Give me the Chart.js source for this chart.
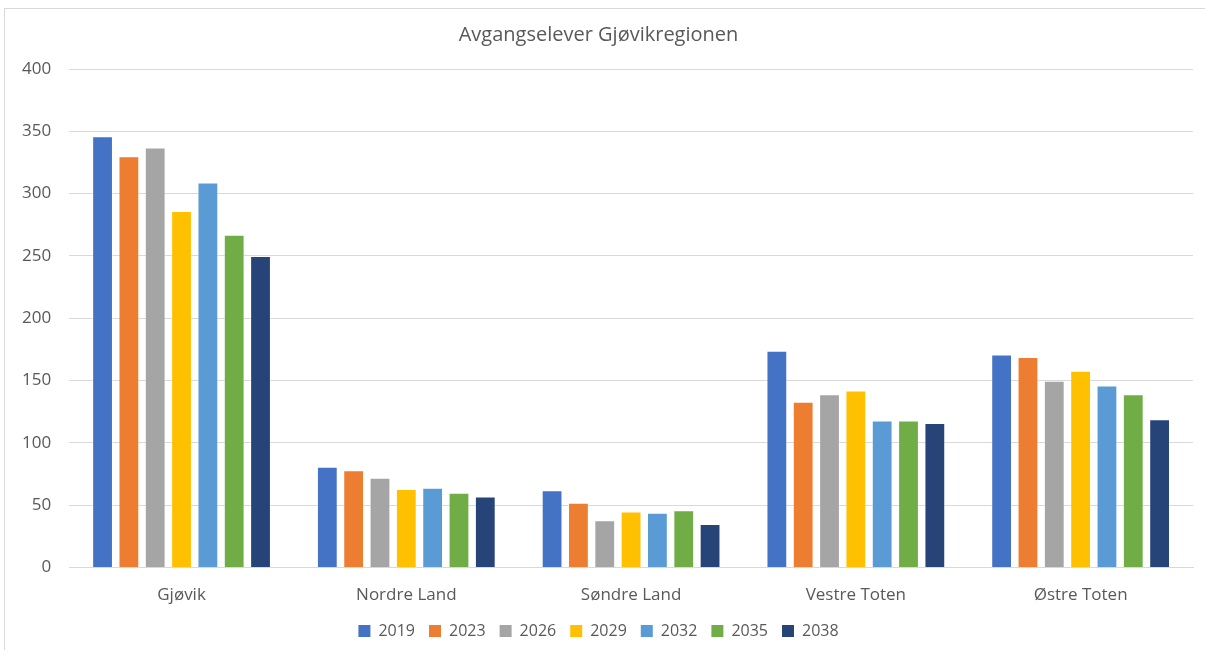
<!DOCTYPE html>
<html>
<head>
<meta charset="utf-8">
<script src="https://cdn.jsdelivr.net/npm/chart.js@4"></script>
<style>
  html, body { margin: 0; padding: 0; background: #fff; }
  #frame { position: absolute; left: 4px; top: 8px; width: 1210px; height: 650px; border: 1px solid #d9d9d9; box-sizing: border-box; }
  #wrap { position: absolute; left: 0; top: 0; width: 1205px; height: 650px; }
</style>
</head>
<body>
<div id="frame"></div>
<div id="wrap"><canvas id="chart"></canvas></div>
<script>
const municipalities = ['Gjøvik', 'Nordre Land', 'Søndre Land', 'Vestre Toten', 'Østre Toten'];
const years = ['2019', '2023', '2026', '2029', '2032', '2035', '2038'];

const y2019 = [346, 81, 62, 174, 171];
const y2023 = [330, 78, 52, 133, 169];
const y2026 = [337, 72, 38, 139, 150];
const y2029 = [286, 63, 45, 142, 158];
const y2032 = [309, 64, 44, 118, 146];
const y2035 = [267, 60, 46, 118, 139];
const y2038 = [250, 57, 35, 116, 119];

const yearColors = ['#4472C4', '#ED7D31', '#A5A5A5', '#FFC000', '#5B9BD5', '#70AD47', '#264478'];
const seriesValues = [y2019, y2023, y2026, y2029, y2032, y2035, y2038];

const fontFamily = '"Open Sans", "Noto Sans", sans-serif';
const textColor = '#595959';

const ctx = document.getElementById('chart').getContext('2d');

new Chart(ctx, {
    type: 'bar',
    data: {
        labels: municipalities,
        datasets: years.map((year, i) => ({
            label: year,
            data: seriesValues[i],
            backgroundColor: yearColors[i],
            borderColor: 'rgba(255, 255, 255, 0.3)',
            borderWidth: 1,
            barPercentage: 0.79,
            categoryPercentage: 0.82
        }))
    },
    options: {
        responsive: true,
        maintainAspectRatio: false,
        animation: false,
        layout: {
            padding: { left: 4, right: 12, top: 23, bottom: 1 }
        },
        plugins: {
            title: {
                display: true,
                text: 'Avgangselever Gjøvikregionen',
                color: textColor,
                font: { family: fontFamily, size: 20, weight: 'normal' },
                padding: { top: 0, bottom: 22 }
            },
            legend: {
                position: 'bottom',
                labels: {
                    color: textColor,
                    font: { family: fontFamily, size: 16 },
                    boxWidth: 12,
                    boxHeight: 12,
                    padding: 14,
                    generateLabels: function(chart) {
                        // plain filled squares, no outline
                        return Chart.defaults.plugins.legend.labels.generateLabels(chart).map(item => {
                            item.lineWidth = 0;
                            return item;
                        });
                    }
                }
            },
            tooltip: { enabled: false }
        },
        scales: {
            y: {
                min: 0,
                max: 400,
                ticks: {
                    stepSize: 50,
                    color: textColor,
                    font: { family: fontFamily, size: 17 },
                    padding: 18
                },
                grid: {
                    color: '#d9d9d9',
                    drawTicks: false
                },
                border: { display: false }
            },
            x: {
                ticks: {
                    color: textColor,
                    font: { family: fontFamily, size: 17 },
                    padding: 17
                },
                grid: {
                    display: false,
                    drawTicks: false
                },
                border: { display: true, color: '#d9d9d9' },
                // let the legend sit closer to the category labels
                afterFit: function(scale) {
                    scale.height -= 13;
                }
            }
        }
    }
});
</script>
</body>
</html>
